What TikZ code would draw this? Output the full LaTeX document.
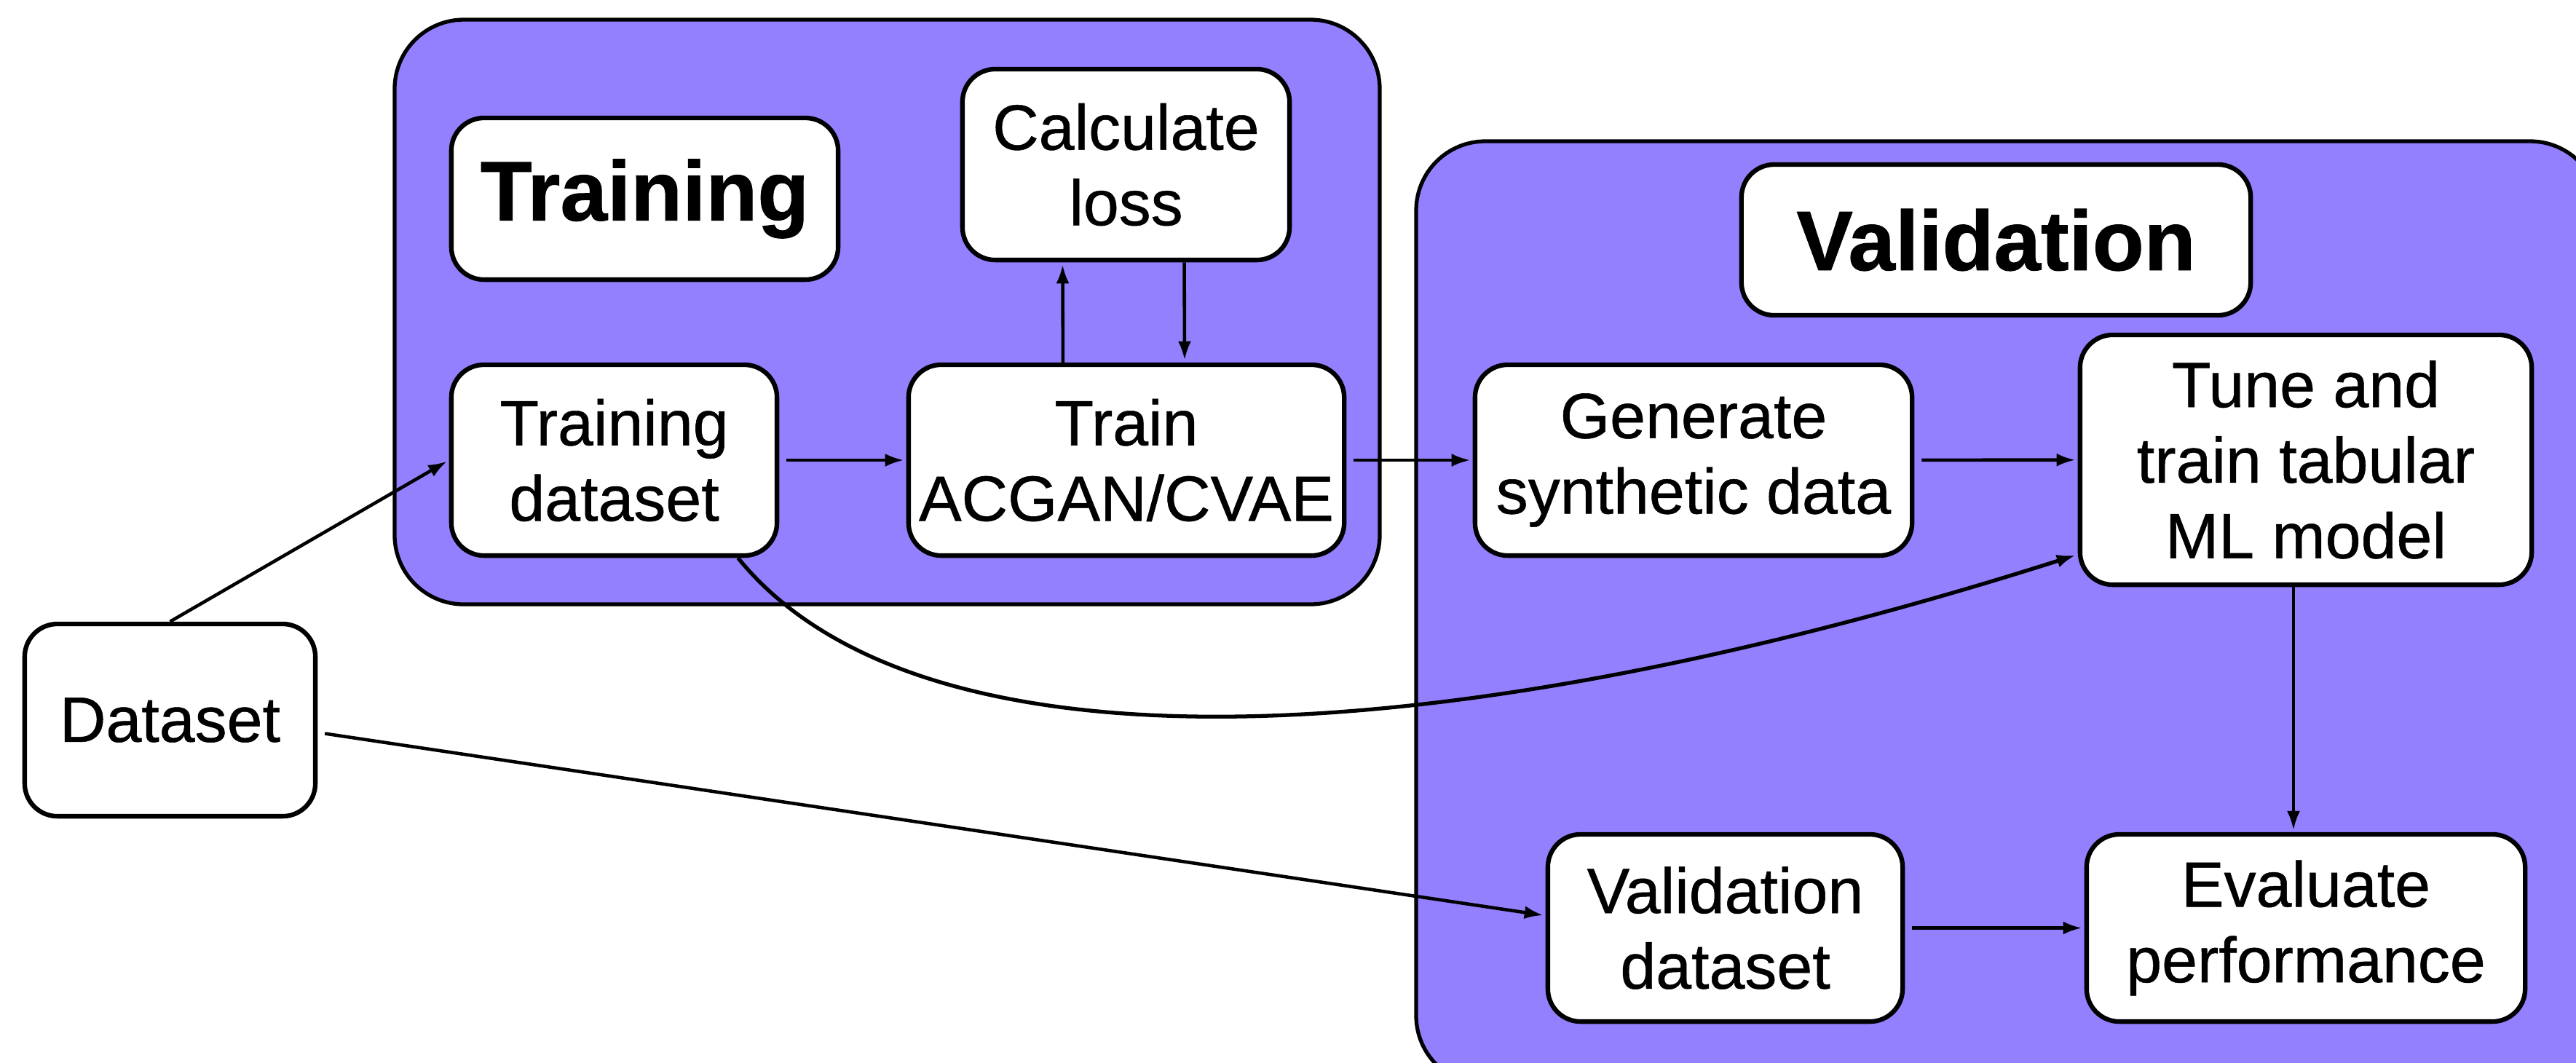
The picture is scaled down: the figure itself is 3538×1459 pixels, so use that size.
\documentclass[tikz,border=0pt]{standalone}
\usepackage{fontspec}
\setmainfont{Liberation Sans}[FakeBold=0.6]
\newfontfamily\titlefont{Liberation Sans}[UprightFont=* Bold,FakeBold=0.8]
\usetikzlibrary{arrows.meta}
\definecolor{vpurple}{RGB}{147,128,255}
\begin{document}
\begin{tikzpicture}[x=0.01cm,y=-0.01cm,
  box/.style={draw,line width=1.8pt,fill=white,rounded corners=0.45cm,align=center,inner sep=0pt,font=\fontsize{25}{29.5}\selectfont},
  titlebox/.style={box,font=\titlefont\fontsize{33}{38}\selectfont},
  group/.style={draw,line width=1.5pt,fill=vpurple,rounded corners=0.95cm},
  conn/.style={line width=1.3pt,-{Latex[length=2.6mm,width=1.8mm]},shorten <=0.1cm,shorten >=0.03cm}]
\useasboundingbox (0,0) rectangle (3538,1459);
\clip (0,0) rectangle (3538,1459);
\fill[white] (0,0) rectangle (3538,1459);
\draw[group] (542,27) rectangle (1895,830);
\draw[group] (1945,194) rectangle (3570,1490);

\node[titlebox,minimum width=5.31cm,minimum height=2.22cm] (ttitle) at (885.5,273) {Training};
\node[box,minimum width=4.49cm,minimum height=2.62cm] (cl) at (1546.5,226) {Calculate\\loss};
\node[box,minimum width=4.47cm,minimum height=2.62cm] (tds) at (843.5,632) {Training\\dataset};
\node[box,minimum width=5.98cm,minimum height=2.62cm] (train) at (1547,632) {Train\\ACGAN/CVAE};
\node[titlebox,minimum width=6.99cm,minimum height=2.07cm] (vtitle) at (2741.5,329.5) {Validation};
\node[box,minimum width=6.00cm,minimum height=2.62cm] (gen) at (2326,632) {Generate\\synthetic data};
\node[box,minimum width=6.20cm,minimum height=3.43cm] (tune) at (3167,631.5) {Tune and\\train tabular\\ML model};
\node[box,minimum width=3.99cm,minimum height=2.64cm] (ds) at (233.5,989) {Dataset};
\node[box,minimum width=4.87cm,minimum height=2.57cm] (vds) at (2369.5,1274.5) {Validation\\dataset};
\node[box,minimum width=6.02cm,minimum height=2.57cm] (ev) at (3167,1274.5) {Evaluate\\performance};

\draw[conn,shorten <=0pt] (ds.north) -- (tds.west);
\draw[conn] ([yshift=-0.17cm]ds.east) -- ([yshift=0.17cm]vds.west);
\draw[conn] (tds) -- (train);
\draw[conn] (train) -- (gen);
\draw[conn] (gen) -- (tune);
\draw[conn] (vds) -- (ev);
\draw[conn,shorten <=0pt] ([xshift=-0.87cm]train.north) -- ([xshift=-0.87cm]cl.south);
\draw[conn,shorten <=0pt] ([xshift=0.8cm]cl.south) -- ([xshift=0.8cm]train.north);
\draw[conn,line width=1pt,shorten <=0pt] ([xshift=-0.17cm]tune.south) -- ([xshift=-0.17cm]ev.north);
\draw[conn,line width=1.5pt,shorten <=0pt] ([xshift=1.7cm]tds.south) .. controls (1267,1079) and (2000,1033) .. ([yshift=-1.3cm]tune.west);
\end{tikzpicture}
\end{document}
